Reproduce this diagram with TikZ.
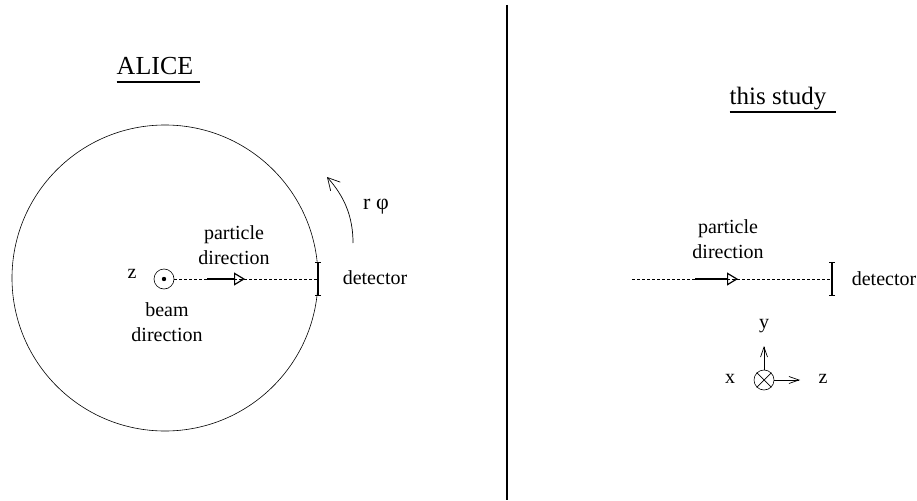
\documentclass[tikz,border=0pt]{standalone}
\usepackage{fontspec}
\setmainfont{Liberation Serif}
\usetikzlibrary{arrows.meta}
\begin{document}
\begin{tikzpicture}[x=1pt,y=-1pt,
  lbl/.style={inner sep=0pt,align=center,font=\fontsize{20}{25}\selectfont},
  ttl/.style={inner sep=0pt,font=\fontsize{26}{30}\selectfont},
  uline/.style={line width=1.4pt},
  ring/.style={circle,draw,line width=0.6pt,inner sep=0pt},
  beamline/.style={line width=0.7pt,dash pattern=on 3pt off 2pt},
  partarrow/.style={line width=1.4pt,-{Triangle[open,length=11pt,width=13pt,line width=1.2pt]}},
  detbar/.style={line width=1.7pt,{Bar[width=6pt,line width=1.2pt]}-{Bar[width=6pt,line width=1.2pt]}},
  axis/.style={line width=0.7pt,-{Straight Barb[length=10pt,width=7pt,line width=0.7pt]}},
  rotarrow/.style={line width=0.7pt,-{Straight Barb[length=12pt,width=13pt,line width=0.7pt]}}
]
\useasboundingbox (0,0) rectangle (917,500);

% divider
\coordinate (divtop) at (507,5);
\coordinate (divbot) at (507,500);
\draw[line width=1.4pt] (divtop) -- (divbot);

% ---------- left: ALICE ----------
\node[ttl,anchor=base] (alice) at (155,75) {ALICE};
\draw[uline] ([yshift=-7pt]alice.base west) -- ([yshift=-7pt,xshift=7pt]alice.base east);

\node[ring,minimum size=306pt] (detring) at (165,278) {};
\node[ring,minimum size=20pt] (beam) at (164,279) {};
\fill (beam.center) circle (2.2pt);
\node[lbl] (zL) at (132,274) {z};
\node[lbl] (beamlbl) at (167,322) {beam\\direction};

\coordinate (detL) at (318,279);
\coordinate (detLtop) at (318,262);
\coordinate (detLbot) at (318,296);
\draw[beamline] (beam.east) -- (detL);
\draw[detbar] (detLtop) -- (detLbot);
\node[lbl] (detLlbl) at (375,278) {detector};

\coordinate (pLa) at (207,279);
\coordinate (pLb) at (245,279);
\draw[partarrow] (pLa) -- (pLb);
\node[lbl] (partL) at (234,245) {particle\\direction};

\coordinate (rotA) at (353,243);
\coordinate (rotB) at (327,177);
\draw[rotarrow] (rotA) .. controls (353,216) and (344,196) .. (rotB);
\node[lbl,font=\fontsize{22}{26}\selectfont] (rphi) at (376,207) {r φ};

% ---------- right: this study ----------
\node[ttl,anchor=base,font=\fontsize{25}{30}\selectfont] (study) at (778,105) {this study};
\draw[uline] ([yshift=-7pt]study.base west) -- ([yshift=-7pt,xshift=10pt]study.base east);

\coordinate (lineR) at (632,279);
\coordinate (detR) at (832,279);
\coordinate (detRtop) at (832,262);
\coordinate (detRbot) at (832,296);
\draw[beamline] (lineR) -- (detR);
\draw[detbar] (detRtop) -- (detRbot);
\node[lbl] (detRlbl) at (884,279) {detector};

\coordinate (pRa) at (695,279);
\coordinate (pRb) at (738,279);
\draw[partarrow] (pRa) -- (pRb);
\node[lbl] (partR) at (728,239) {particle\\direction};

% axes
\node[ring,minimum size=20pt] (ox) at (764,380) {};
\draw[line width=0.7pt] (ox.45) -- (ox.225) (ox.135) -- (ox.315);
\coordinate (ytip) at (764,346);
\coordinate (ztip) at (800,380);
\draw[axis] (ox.north) -- (ytip);
\draw[axis] (ox.east) -- (ztip);
\node[lbl] (ylbl) at (764,326) {y};
\node[lbl] (xlbl) at (730,379) {x};
\node[lbl] (zlbl) at (823,379) {z};
\end{tikzpicture}
\end{document}
